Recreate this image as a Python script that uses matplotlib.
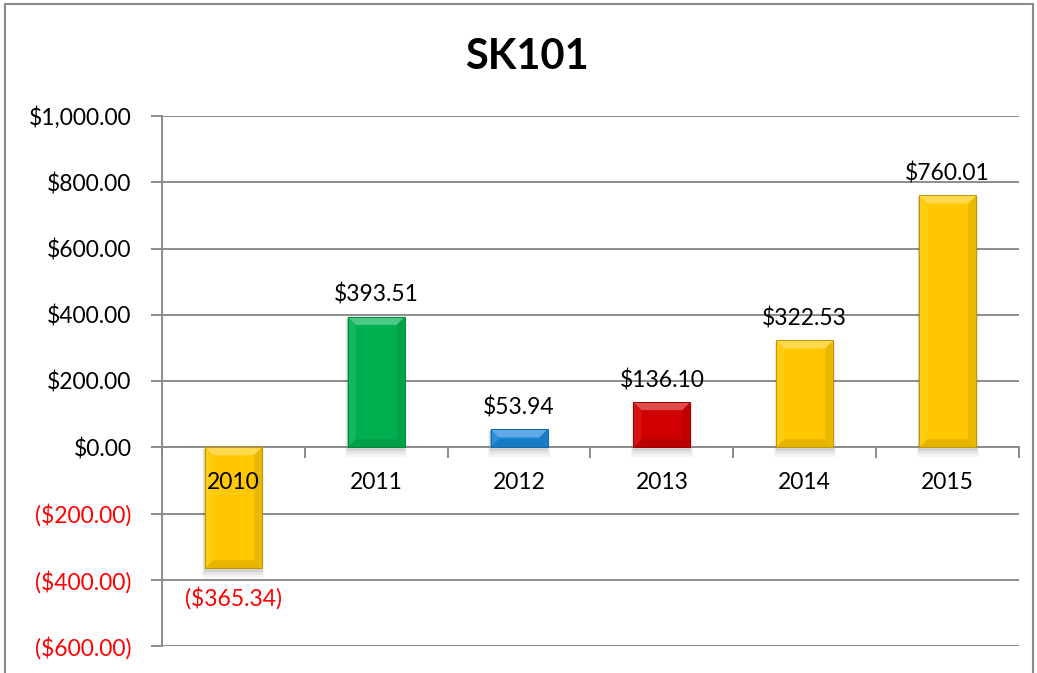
import matplotlib
matplotlib.use("Agg")
import matplotlib.pyplot as plt
from matplotlib.patches import Polygon, Rectangle
from matplotlib.colors import to_rgb
import numpy as np

years = ["2010", "2011", "2012", "2013", "2014", "2015"]
values = [-365.34, 393.51, 53.94, 136.10, 322.53, 760.01]
bar_colors = ["#FFC800", "#00B050", "#1A86D8", "#D00000", "#FFC800", "#FFC800"]
y_ticks = [-600, -400, -200, 0, 200, 400, 600, 800, 1000]

plt.rcParams['font.family'] = ['Lato', 'DejaVu Sans']


def money(v):
    s = "${:,.2f}".format(abs(v))
    return "(" + s + ")" if v < 0 else s


def shade(c, f):
    # f > 0 blends toward white, f < 0 toward black
    r = np.array(to_rgb(c))
    return tuple(r + (1 - r) * f) if f > 0 else tuple(r * (1 + f))


W, H = 1037, 673
fig = plt.figure(figsize=(W / 100, H / 100), dpi=100)
fig.patches.append(Rectangle((5 / W, -0.02), 1028 / W, 1 - 4 / H + 0.02,
                             transform=fig.transFigure, fill=False,
                             edgecolor="#8a8a8a", linewidth=1.5))
ax = fig.add_axes([162 / W, 1 - 646 / H, 857 / W, 530 / H])

x = np.arange(len(years))
ax.set_xlim(-0.5, len(years) - 0.5)
ax.set_ylim(-600, 1000)

fs = 16.5
grid_c = "#8c8c8c"
ax.set_yticks(y_ticks)
ax.yaxis.grid(True, color=grid_c, linewidth=1.4)
ax.set_axisbelow(True)
ax.set_yticklabels([money(v) for v in y_ticks], fontsize=fs)
for lab, v in zip(ax.get_yticklabels(), y_ticks):
    lab.set_color("red" if v < 0 else "black")
ax.tick_params(axis="y", length=8, width=1.4, color=grid_c, pad=14)

ax.spines["top"].set_visible(False)
ax.spines["right"].set_visible(False)
ax.spines["left"].set_color(grid_c)
ax.spines["left"].set_linewidth(1.4)
ax.spines["bottom"].set_position(("data", 0))
ax.spines["bottom"].set_color(grid_c)
ax.spines["bottom"].set_linewidth(1.4)
ax.set_xticks(np.arange(len(years) + 1) - 0.5)
ax.set_xticklabels([])
ax.tick_params(axis="x", length=8, width=1.4, color=grid_c)

bw = 0.40
bars = ax.bar(x, values, width=bw, color=bar_colors, zorder=3, linewidth=0)

# pixel -> data conversions (axes size is fixed)
px_x = 6 / 857.0
px_y = 1600 / 530.0
bev = 8
dx, dy = bev * px_x, bev * px_y

for b, c in zip(bars, bar_colors):
    x0, x1 = b.get_x(), b.get_x() + b.get_width()
    y0, y1 = sorted([b.get_y(), b.get_y() + b.get_height()])
    # soft shadow
    for k, a in [(8, 0.04), (5, 0.06), (2, 0.08)]:
        ax.add_patch(Rectangle((x0 - k * px_x * 0.3, y0 - (k + 2) * px_y),
                               (x1 - x0) + k * px_x * 0.6, (y1 - y0) + k * px_y,
                               color="black", alpha=a, zorder=2, linewidth=0))
    polys = [
        ([(x0, y1), (x1, y1), (x1 - dx, y1 - dy), (x0 + dx, y1 - dy)], shade(c, 0.3)),
        ([(x0, y0), (x1, y0), (x1 - dx, y0 + dy), (x0 + dx, y0 + dy)], shade(c, -0.1)),
        ([(x0, y0), (x0, y1), (x0 + dx, y1 - dy), (x0 + dx, y0 + dy)], shade(c, 0.08)),
        ([(x1, y0), (x1, y1), (x1 - dx, y1 - dy), (x1 - dx, y0 + dy)], shade(c, -0.08)),
    ]
    for pts, col in polys:
        ax.add_patch(Polygon(pts, closed=True, color=col, zorder=4, linewidth=0))
    ax.add_patch(Rectangle((x0, y0), x1 - x0, y1 - y0, fill=False,
                           edgecolor=shade(c, -0.25), linewidth=0.7, zorder=5))

for xi, v in zip(x, values):
    if v >= 0:
        ax.annotate(money(v), (xi, v), xytext=(0, 11), textcoords="offset pixels",
                    ha="center", va="bottom", fontsize=fs, color="black", zorder=6)
    else:
        ax.annotate(money(v), (xi, v), xytext=(0, -18), textcoords="offset pixels",
                    ha="center", va="top", fontsize=fs, color="red", zorder=6)

for xi, yr in zip(x, years):
    ax.annotate(yr, (xi, 0), xytext=(0, -35), textcoords="offset pixels",
                ha="center", va="center", fontsize=fs, color="black", zorder=6)

fig.text(527 / W, 1 - 57 / H, "SK101", ha="center", va="center",
         fontsize=30, fontweight="bold")

fig.savefig("out.png", dpi=100)
